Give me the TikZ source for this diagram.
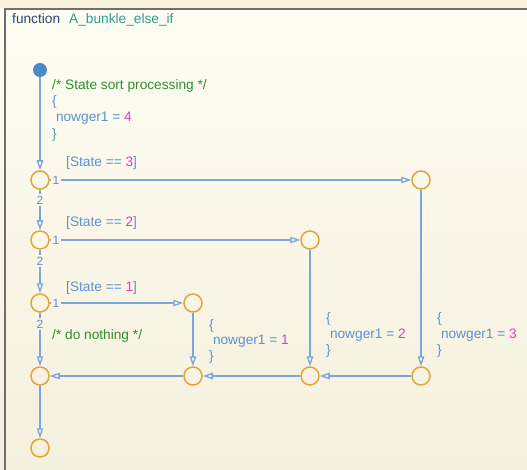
\documentclass[tikz,border=0pt]{standalone}
\usepackage{fontspec}
\setmainfont{Liberation Sans}
\usetikzlibrary{arrows.meta}
\definecolor{bgtop}{HTML}{FEFDF2}
\definecolor{bgbot}{HTML}{F5F0DE}
\definecolor{bandcol}{HTML}{F8F3DA}
\definecolor{lnblue}{HTML}{79A6DD}
\definecolor{txblue}{HTML}{5E90D0}
\definecolor{jorange}{HTML}{E2A53A}
\definecolor{dotblue}{HTML}{4C88CB}
\definecolor{cgreen}{HTML}{2F8F2F}
\definecolor{cmag}{HTML}{E03CC6}
\definecolor{fnavy}{HTML}{2C4A78}
\definecolor{fteal}{HTML}{2E9C8E}
\definecolor{bordergray}{HTML}{6E6E6E}
\begin{document}
\begin{tikzpicture}[x=1pt,y=-1pt,
 junc/.style={circle,draw=jorange,line width=1.5pt,minimum size=18pt,inner sep=0pt},
 arr/.style={draw=lnblue,line width=1.3pt,-{Triangle[open,length=10pt,width=6.5pt]}},
 ln/.style={draw=lnblue,line width=1.3pt},
 txt/.style={anchor=base west,inner sep=0pt,font=\fontsize{13.7}{16}\selectfont,text=txblue},
 num/.style={inner sep=1.2pt,font=\fontsize{12}{14}\selectfont,text=txblue},
]
\useasboundingbox (0,0) rectangle (527,470);
\shade[top color=bgtop,bottom color=bgbot] (0,0) rectangle (527,470);
\fill[bandcol] (0,0) rectangle (527,8);
\draw[bordergray,line width=2pt] (4,9.5) -- (527,9.5);
\draw[bordergray,line width=2pt] (5,9) -- (5,470);

% title
\node[txt,text=fnavy] (fn) at (12,24) {function};
\node[txt,text=fteal] (fname) at (69,24) {A\_bunkle\_else\_if};

% junctions
\node[circle,fill=dotblue,minimum size=14pt,inner sep=0pt] (D) at (40,70) {};
\node[junc] (J1) at (40,180) {};
\node[junc] (R1) at (421,180) {};
\node[junc] (J2) at (40,240) {};
\node[junc] (R2) at (310,240) {};
\node[junc] (J3) at (40,303) {};
\node[junc] (R3) at (193,303) {};
\node[junc] (M0) at (40,376) {};
\node[junc] (M1) at (193,376) {};
\node[junc] (M2) at (310,376) {};
\node[junc] (M3) at (421,376) {};
\node[junc] (E) at (40,448) {};

% order labels
\node[num] (a1) at (56,180) {1};
\node[num] (a2) at (56,240) {1};
\node[num] (a3) at (56,303) {1};
\node[num] (b1) at (40,200) {2};
\node[num] (b2) at (40,261) {2};
\node[num] (b3) at (40,324) {2};

% connectors
\draw[arr] (D) -- (J1);
\draw[ln] (J1) -- (a1); \draw[arr] (a1) -- (R1);
\draw[ln] (J2) -- (a2); \draw[arr] (a2) -- (R2);
\draw[ln] (J3) -- (a3); \draw[arr] (a3) -- (R3);
\draw[ln] (J1) -- (b1); \draw[arr] (b1) -- (J2);
\draw[ln] (J2) -- (b2); \draw[arr] (b2) -- (J3);
\draw[ln] (J3) -- (b3); \draw[arr] (b3) -- (M0);
\draw[arr] (R1) -- (M3);
\draw[arr] (R2) -- (M2);
\draw[arr] (R3) -- (M1);
\draw[arr] (M3) -- (M2);
\draw[arr] (M2) -- (M1);
\draw[arr] (M1) -- (M0);
\draw[arr] (M0) -- (E);

% transition labels
\node[txt,text=cgreen] (c0) at (52,90) {/* State sort processing */};
\node[txt] (c0a) at (52,106) {\{};
\node[txt] (c0b) at (52,122) {\ nowger1 = \textcolor{cmag}{4}};
\node[txt] (c0c) at (52,139) {\}};

\node[txt] (g3) at (66,167) {[State == \textcolor{cmag}{3}]};
\node[txt] (g2) at (66,227) {[State == \textcolor{cmag}{2}]};
\node[txt] (g1) at (66,291) {[State == \textcolor{cmag}{1}]};
\node[txt,text=cgreen] (dn) at (52,339) {/* do nothing */};

\node[txt] (s1a) at (209,329) {\{};
\node[txt] (s1b) at (209,344) {\ nowger1 = \textcolor{cmag}{1}};
\node[txt] (s1c) at (209,360) {\}};

\node[txt] (s2a) at (326,322) {\{};
\node[txt] (s2b) at (326,338) {\ nowger1 = \textcolor{cmag}{2}};
\node[txt] (s2c) at (326,354) {\}};

\node[txt] (s3a) at (437,322) {\{};
\node[txt] (s3b) at (437,338) {\ nowger1 = \textcolor{cmag}{3}};
\node[txt] (s3c) at (437,354) {\}};
\end{tikzpicture}
\end{document}
